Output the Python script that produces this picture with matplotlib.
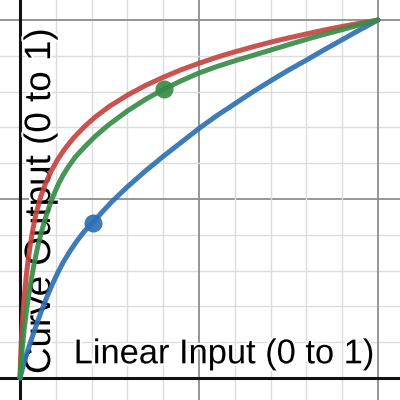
import matplotlib
matplotlib.use('Agg')
import matplotlib.pyplot as plt
import matplotlib.patheffects as pe

# curves (x = linear input, y = curve output)
red_x = [0, 0.002, 0.005, 0.009, 0.013, 0.018, 0.023, 0.029, 0.036, 0.045, 0.058, 0.072,
         0.087, 0.105, 0.125, 0.15, 0.18, 0.21, 0.25, 0.3, 0.35, 0.4, 0.45, 0.5,
         0.55, 0.6, 0.65, 0.7, 0.75, 0.8, 0.85, 0.9, 0.95, 1.0]
red_y = [0, 0.066, 0.13, 0.192, 0.239, 0.29, 0.331, 0.374, 0.416, 0.46, 0.507, 0.545,
         0.578, 0.61, 0.64, 0.671, 0.702, 0.729, 0.759, 0.79, 0.817, 0.84, 0.861, 0.879,
         0.896, 0.911, 0.925, 0.938, 0.95, 0.961, 0.972, 0.982, 0.991, 1.0]

green_x = [0, 0.004, 0.011, 0.018, 0.025, 0.032, 0.04, 0.05, 0.06, 0.073, 0.088, 0.105,
           0.12, 0.135, 0.155, 0.18, 0.21, 0.246, 0.3, 0.35, 0.402, 0.45, 0.5, 0.55,
           0.6, 0.65, 0.7, 0.75, 0.8, 0.85, 0.9, 0.95, 1.0]
green_y = [0, 0.059, 0.13, 0.188, 0.236, 0.278, 0.322, 0.369, 0.409, 0.453, 0.497, 0.537,
           0.566, 0.59, 0.618, 0.645, 0.675, 0.706, 0.746, 0.778, 0.807, 0.83, 0.852, 0.87,
           0.886, 0.901, 0.916, 0.931, 0.946, 0.96, 0.973, 0.987, 1.0]

blue_x = [0, 0.01, 0.02, 0.032, 0.045, 0.06, 0.075, 0.09, 0.105, 0.12, 0.14, 0.16,
          0.18, 0.204, 0.23, 0.256, 0.3, 0.35, 0.4, 0.45, 0.5, 0.55, 0.6, 0.65,
          0.7, 0.75, 0.8, 0.85, 0.9, 0.95, 1.0]
blue_y = [0, 0.038, 0.072, 0.108, 0.146, 0.188, 0.226, 0.261, 0.293, 0.322, 0.355, 0.384,
          0.41, 0.435, 0.464, 0.492, 0.534, 0.578, 0.619, 0.658, 0.697, 0.733, 0.766, 0.799,
          0.83, 0.86, 0.888, 0.917, 0.945, 0.973, 1.0]

# draggable points
blue_pt = (0.204, 0.434)
green_pt = (0.402, 0.807)

x_label = 'Linear Input (0 to 1)'
y_label = 'Curve Output (0 to 1)'

red = '#c74440'
blue = '#2d70b3'
green = '#388c46'

fig = plt.figure(figsize=(4, 4), dpi=100)
ax = fig.add_axes([0, 0, 1, 1])
ax.set_xlim(-20 / 358, 380 / 358)
ax.set_ylim(-22 / 358, 378 / 358)
ax.axis('off')

# grid like desmos: light minor lines, darker major lines, black axes
for i in range(1, 11):
    v = i / 10
    if i % 5 == 0:
        c, w = '#8e8e8e', 1.3
    else:
        c, w = '#dcdcdc', 1.0
    ax.axvline(v, color=c, lw=w, zorder=1)
    ax.axhline(v, color=c, lw=w, zorder=1)
ax.axvline(0, color='#111111', lw=2.2, zorder=2)
ax.axhline(0, color='#111111', lw=2.2, zorder=2)

halo = [pe.withStroke(linewidth=3, foreground='white')]
ax.text(0.150, 0.041, x_label, family='Liberation Sans', fontsize=24.8,
        ha='left', va='baseline', zorder=3, path_effects=halo)
ax.text(0.084, 0.011, y_label, family='Liberation Sans', fontsize=26.5,
        rotation=90, rotation_mode='anchor', ha='left', va='baseline',
        zorder=3, path_effects=halo)

for xs, ys, c in [(red_x, red_y, red), (blue_x, blue_y, blue), (green_x, green_y, green)]:
    ax.plot(xs, ys, color=c, lw=3.6, alpha=0.92, solid_capstyle='round',
            solid_joinstyle='round', zorder=4)

ax.plot(*blue_pt, 'o', color=blue, ms=13, alpha=0.92, mec='none', zorder=5)
ax.plot(*green_pt, 'o', color=green, ms=13, alpha=0.92, mec='none', zorder=5)

fig.savefig('out.png', dpi=100)
